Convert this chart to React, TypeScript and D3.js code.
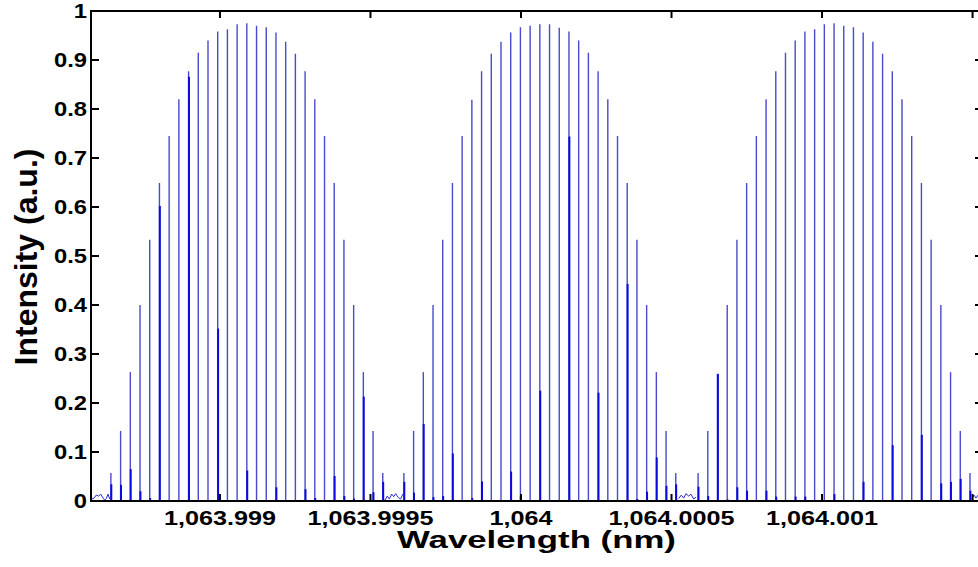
import React from "react";
import * as d3 from "d3";

// Wavelength offsets are in units of 1e-6 nm relative to 1064 nm
const REF_NM = 1064;
const X_DOMAIN = [-1428.4, 1534.7];
const envelopeStartOffsets = [-1362.3, -389.0, 588.3];
const combSpacing = 32.255;

const envelope1Heights = [0.057, 0.143, 0.263, 0.4, 0.533, 0.649, 0.745, 0.82, 0.877, 0.915, 0.94, 0.958, 0.963, 0.973, 0.975, 0.97, 0.967, 0.956, 0.937, 0.913, 0.877, 0.82, 0.745, 0.649, 0.533, 0.4, 0.263, 0.143, 0.057];
const envelope2Heights = [0.057, 0.143, 0.263, 0.4, 0.533, 0.649, 0.745, 0.819, 0.877, 0.913, 0.937, 0.956, 0.967, 0.97, 0.973, 0.973, 0.966, 0.958, 0.94, 0.915, 0.877, 0.82, 0.745, 0.649, 0.533, 0.4, 0.263, 0.143, 0.057];
const envelope3Heights = [0.057, 0.143, 0.26, 0.4, 0.533, 0.649, 0.745, 0.82, 0.877, 0.915, 0.94, 0.958, 0.963, 0.973, 0.975, 0.97, 0.967, 0.956, 0.937, 0.913, 0.877, 0.82, 0.745, 0.649, 0.533, 0.4, 0.263, 0.143, 0.057];

// [envelope, comb index, height] of the darker secondary peaks
const secondaryPeaks: [number, number, number][] = [
  [0, 0, 0.034], [0, 1, 0.033], [0, 2, 0.065], [0, 3, 0.02], [0, 4, 0.006], [0, 5, 0.602], [0, 8, 0.866], [0, 11, 0.352], [0, 14, 0.062], [0, 17, 0.028], [0, 20, 0.024], [0, 21, 0.006], [0, 23, 0.051], [0, 24, 0.01], [0, 25, 0.005], [0, 26, 0.213], [0, 27, 0.018], [0, 28, 0.039],
  [1, 0, 0.039], [1, 1, 0.017], [1, 2, 0.157], [1, 3, 0.008], [1, 4, 0.01], [1, 5, 0.097], [1, 7, 0.006], [1, 8, 0.04], [1, 11, 0.06], [1, 12, 0.01], [1, 14, 0.225], [1, 17, 0.744], [1, 20, 0.221], [1, 23, 0.443], [1, 24, 0.004], [1, 25, 0.019], [1, 26, 0.089], [1, 27, 0.031], [1, 28, 0.034],
  [2, 0, 0.029], [2, 1, 0.01], [2, 2, 0.259], [2, 3, 0.003], [2, 4, 0.028], [2, 5, 0.021], [2, 7, 0.021], [2, 8, 0.009], [2, 10, 0.009], [2, 11, 0.009], [2, 14, 0.014], [2, 17, 0.039], [2, 20, 0.114], [2, 23, 0.135], [2, 25, 0.036], [2, 26, 0.039], [2, 27, 0.045], [2, 28, 0.021],
];

// low-level background between the envelopes: [offset, intensity]
const noise1: [number, number][] = [[-1430.7, 0.002], [-1418.4, 0.006], [-1410.8, 0.012], [-1402.8, 0.01], [-1396.2, 0.014], [-1388.5, 0.006], [-1382.9, 0.002], [-1377.5, 0.005], [-1371.9, 0.014], [-1366.3, 0.004]];
const noise2: [number, number][] = [[-451.8, 0.002], [-444.1, 0.01], [-437.5, 0.004], [-429.5, 0.014], [-422.9, 0.009], [-416.2, 0.015], [-407.6, 0.007], [-399.6, 0.004], [-393.0, 0.014]];
const noise3: [number, number][] = [[523.9, 0.005], [532.5, 0.012], [540.5, 0.006], [548.1, 0.015], [557.1, 0.01], [564.7, 0.014], [573.7, 0.004], [581.3, 0.008]];
const noise4: [number, number][] = [[1498.1, 0.004], [1504.8, 0.012], [1511.4, 0.006], [1518.1, 0.012]];

const xTickOffsets = [-1000, -500, 0, 500, 1000, 1500];
const xTickLabels = ["1,063.999", "1,063.9995", "1,064", "1,064.0005", "1,064.001", ""];
const yTicks = [0, 0.1, 0.2, 0.3, 0.4, 0.5, 0.6, 0.7, 0.8, 0.9, 1];
const yTickLabels = ["0", "0.1", "0.2", "0.3", "0.4", "0.5", "0.6", "0.7", "0.8", "0.9", "1"];

const xLabel = "Wavelength (nm)";
const yLabel = "Intensity (a.u.)";

const FONT = "'Liberation Sans', Arial, Helvetica, sans-serif";

export default function App() {
  const W = 978, H = 567;
  const L = 91, R = 983, T = 11, B = 501;
  const x = d3.scaleLinear().domain(X_DOMAIN).range([L, R]);
  const y = d3.scaleLinear().domain([0, 1]).range([B, T]);
  const envelopes = [envelope1Heights, envelope2Heights, envelope3Heights];
  const spikes = envelopes.flatMap((hs, e) =>
    hs.map((h, i) => ({ off: envelopeStartOffsets[e] + i * combSpacing, h }))
  );
  const secondary = secondaryPeaks.map(([e, i, h]) => ({
    off: envelopeStartOffsets[e] + i * combSpacing,
    h,
  }));
  const line = d3
    .line<[number, number]>()
    .x((d) => x(d[0]))
    .y((d) => y(d[1]));
  const noises = [noise1, noise2, noise3, noise4];

  return (
    <svg
      width={W}
      height={H}
      style={{ position: "absolute", left: 0, top: 0, background: "#fff" }}
    >
      <rect x={0} y={0} width={W} height={H} fill="#fff" />
      <defs>
        <clipPath id="plot">
          <rect x={L} y={T} width={R - L} height={B - T} />
        </clipPath>
      </defs>
      <g clipPath="url(#plot)">
        {noises.map((n, k) => (
          <path key={k} d={line(n) || ""} fill="none" stroke="#2a2ad0" strokeWidth={1} />
        ))}
        {spikes.map((s, k) => (
          <line
            key={k}
            x1={x(s.off)}
            x2={x(s.off)}
            y1={y(0)}
            y2={y(s.h)}
            stroke="#4a4acc"
            strokeWidth={1.4}
          />
        ))}
        {secondary.map((s, k) => (
          <line
            key={k}
            x1={x(s.off) + 0.4}
            x2={x(s.off) + 0.4}
            y1={y(0)}
            y2={y(s.h)}
            stroke="#0a0ae0"
            strokeWidth={2}
          />
        ))}
      </g>
      {/* axes box */}
      <g stroke="#000" strokeWidth={2} fill="none">
        <line x1={L} x2={R} y1={T} y2={T} />
        <line x1={L} x2={R} y1={B} y2={B} />
        <line x1={L} x2={L} y1={T - 1} y2={B + 1} />
        <line x1={R} x2={R} y1={T - 1} y2={B + 1} />
        {xTickOffsets.map((v, k) => (
          <g key={k}>
            <line x1={x(v)} x2={x(v)} y1={B} y2={B - 7} />
            <line x1={x(v)} x2={x(v)} y1={T} y2={T + 7} />
          </g>
        ))}
        {yTicks.map((v, k) => (
          <g key={k}>
            <line x1={L} x2={L + 8} y1={y(v)} y2={y(v)} />
            <line x1={R} x2={R - 8} y1={y(v)} y2={y(v)} />
          </g>
        ))}
      </g>
      <g fontFamily={FONT} fontWeight="bold" fill="#000">
        {xTickOffsets.map((v, k) => (
          <g key={k} transform={`translate(${x(v)},525) scale(1.26,1)`}>
            <text textAnchor="middle" fontSize={20}>
              {xTickLabels[k]}
            </text>
          </g>
        ))}
        {yTicks.map((v, k) => (
          <g key={k} transform={`translate(87,${y(v) + 7}) scale(1.22,1)`}>
            <text textAnchor="end" fontSize={19.5}>
              {yTickLabels[k]}
            </text>
          </g>
        ))}
        <g transform={`translate(${(L + R) / 2 - 0.5},548) scale(1.45,1)`}>
          <text textAnchor="middle" fontSize={24}>
            {xLabel}
          </text>
        </g>
        <g transform={`translate(37,${(T + B) / 2 + 1}) rotate(-90)`}>
          <text textAnchor="middle" fontSize={32}>
            {yLabel}
          </text>
        </g>
      </g>
    </svg>
  );
}
